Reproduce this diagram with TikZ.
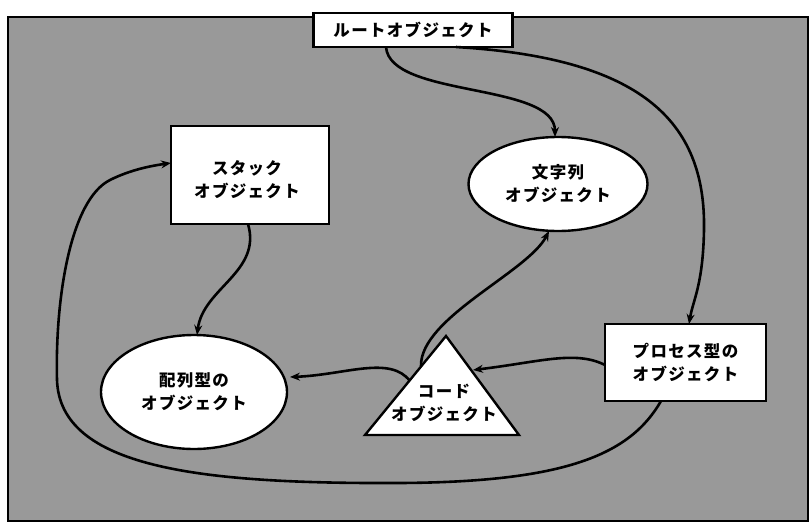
\documentclass[tikz,border=0pt]{standalone}
\usepackage{fontspec}
\newfontfamily\jp{Noto Sans CJK JP}[LetterSpace=8]
\usetikzlibrary{arrows.meta,shapes.geometric}
\tikzset{
  lbl/.style={font=\jp\bfseries\fontsize{16.5}{23}\selectfont, align=center, text=black},
  obj/.style={draw=black, line width=2.4pt, fill=white},
  conn/.style={draw=black, line width=2.6pt, -{Stealth[length=10pt,width=8pt]}},
}
\begin{document}
\begin{tikzpicture}[x=1pt,y=-1pt]
\useasboundingbox (0,0) rectangle (812,525);
% background frame
\draw[line width=2.5pt, fill=black!40] (8,17) rectangle (808,521);
% nodes
\node[obj, lbl, minimum width=199pt, minimum height=34pt, inner sep=0pt] (root) at (413,30) {ルートオブジェクト};
\node[obj, minimum width=158pt, minimum height=98pt, inner sep=0pt] (stack) at (250,175) {};
\node[lbl] (stacktxt) at (247,180) {スタック\\オブジェクト};
\node[obj, lbl, ellipse, minimum width=179pt, minimum height=94pt, inner sep=0pt] (str) at (558,184) {文字列\\オブジェクト};
\node[obj, lbl, ellipse, minimum width=186pt, minimum height=114pt, inner sep=0pt] (arr) at (194,392) {配列型の\\オブジェクト};
\node[obj, lbl, minimum width=161pt, minimum height=77pt, inner sep=0pt] (proc) at (685.5,362.5) {プロセス型の\\オブジェクト};
% triangle
\coordinate (tA) at (446,336);
\coordinate (tL) at (365,435);
\coordinate (tR) at (519,435);
\draw[obj, line join=miter] (tA) -- (tR) -- (tL) -- cycle;
\node[lbl] (code) at (444,403) {コード\\オブジェクト};
% connection points
\coordinate (rootA) at (386,47);
\coordinate (rootB) at (456,47);
\coordinate (strT) at (555,137);
\coordinate (strB) at (549,231);
\coordinate (procT) at (689,324);
\coordinate (procL) at (605,365);
\coordinate (procB) at (661,401);
\coordinate (stackB) at (248,224);
\coordinate (stackL) at (171,163);
\coordinate (arrT) at (197,335);
\coordinate (arrR) at (290,377);
\coordinate (codeUL) at (421,366);
\coordinate (codeL) at (410,381);
\coordinate (codeR) at (473,370);
% connectors
\draw[conn] (rootA) .. controls (390,98) and (555,82) .. (strT);
\draw[conn] (rootB) .. controls (640,58) and (706,120) .. (704,230) .. controls (703,285) and (693,300) .. (procT);
\draw[conn] (stackB) .. controls (262,272) and (203,288) .. (arrT);
\draw[conn] (codeUL) .. controls (420,318) and (528,272) .. (strB);
\draw[conn] (procL) .. controls (575,350) and (540,362) .. (codeR);
\draw[conn] (codeL) .. controls (390,355) and (345,375) .. (arrR);
\draw[conn] (procB) .. controls (630,455) and (565,482) .. (400,483) .. controls (200,484) and (60,468) .. (57,380) .. controls (55,300) and (70,200) .. (110,180) .. controls (130,170) and (150,166) .. (stackL);
\end{tikzpicture}
\end{document}
